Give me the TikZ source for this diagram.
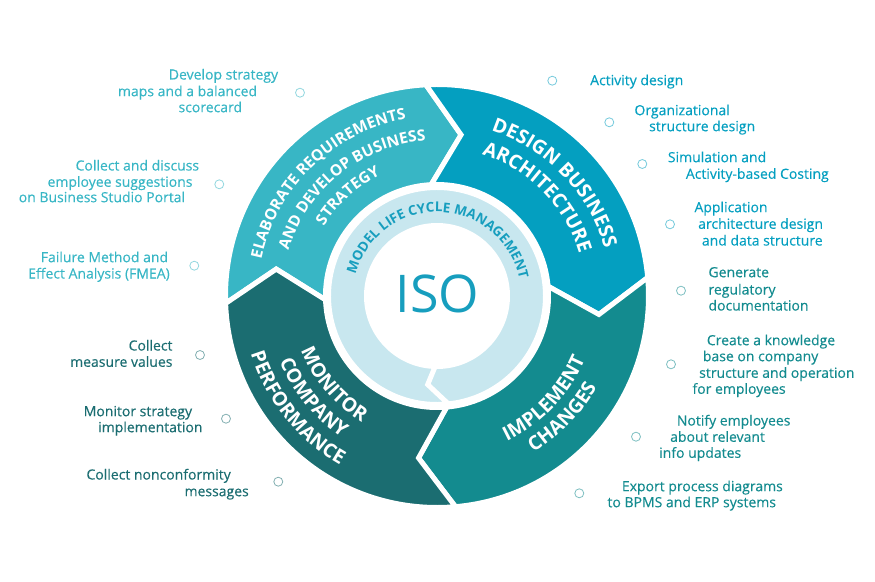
\documentclass[tikz,border=0pt]{standalone}
\usepackage{fontspec}
\setmainfont{Open Sans}
\newfontfamily\itemfont[FakeBold=0.35]{Open Sans}
\usetikzlibrary{decorations.text}

\definecolor{elab}{HTML}{38B6C5}
\definecolor{design}{HTML}{049FC0}
\definecolor{impl}{HTML}{138B8F}
\definecolor{monitor}{HTML}{1B6D71}
\definecolor{ring}{HTML}{C8E7EF}
\definecolor{ringtext}{HTML}{179EBE}

\newcommand\elabfont{\bfseries\fontsize{15.5}{15.5}\selectfont}
\newcommand\segfont{\bfseries\fontsize{19.5}{19.5}\selectfont}
\newcommand\ringfont{\bfseries\fontsize{13.5}{13.5}\selectfont}

\tikzset{
  segment/.style={draw=white, line width=5pt},
  dot/.style={circle, draw, fill=white, line width=0.8pt, minimum size=9pt, inner sep=0pt},
  itemR/.style={anchor=west, inner sep=0pt, font=\itemfont\fontsize{14}{16}\selectfont, text height=10pt, text depth=1pt},
  itemL/.style={itemR, anchor=east},
}

\begin{document}
\begin{tikzpicture}[x=1pt, y=1pt]
  \useasboundingbox (-437,-285) rectangle (438,296);

  % --- four arrow segments of the cycle ---
  \foreach \a/\b/\col in {182/93/elab, 93/5/design, 5/-85/impl, 275/182/monitor}
    \filldraw[segment, fill=\col] (\a:211.5) arc[start angle=\a, end angle=\b, radius=211.5]
      -- ({\b-11.5}:163) -- (\b:111.5) arc[start angle=\b, end angle=\a, radius=111.5]
      -- ({\a-11.5}:163) -- cycle;

  % --- inner ring arrow ---
  \filldraw[segment, fill=ring] (276:108.5) arc[start angle=276, end angle=-84, radius=108.5]
    -- (-96:89) -- (-91.5:70.5) arc[start angle=-91.5, end angle=268.5, radius=70.5]
    -- (264:89) -- cycle;
  \path[decorate, decoration={text along path, text align=center, text color=ringtext,
      text={|\ringfont|MODEL LIFE CYCLE MANAGEMENT}}]
    (178.4:84) arc[start angle=178.4, end angle=-1.6, radius=84];
  \node[text=ringtext, font=\fontsize{52}{52}\selectfont] (iso) at (0.3,2) {ISO};

  % --- segment titles ---
  \path[decorate, decoration={text along path, text align=center, text color=white,
      text={|\elabfont|ELABORATE REQUIREMENTS}}]
    (184:179.5) arc[start angle=184, end angle=84, radius=179.5];
  \path[decorate, decoration={text along path, text align=center, text color=white,
      text={|\elabfont|AND DEVELOP BUSINESS}}]
    (178.5:155.5) arc[start angle=178.5, end angle=78.5, radius=155.5];
  \path[decorate, decoration={text along path, text align=center, text color=white,
      text={|\elabfont|STRATEGY}}]
    (171.7:133) arc[start angle=171.7, end angle=91.7, radius=133];

  \path[decorate, decoration={text along path, text align=center, text color=white,
      text={|\segfont|DESIGN BUSINESS}}]
    (93.75:174) arc[start angle=93.75, end angle=-6.25, radius=174];
  \path[decorate, decoration={text along path, text align=center, text color=white,
      text={|\segfont|ARCHITECTURE}}]
    (94.5:148.5) arc[start angle=94.5, end angle=-5.5, radius=148.5];

  \path[decorate, decoration={text along path, text align=center, text color=white,
      text={|\segfont|IMPLEMENT}}]
    (-93.75:161) arc[start angle=-93.75, end angle=6.25, radius=161];
  \path[decorate, decoration={text along path, text align=center, text color=white,
      text={|\segfont|CHANGES}}]
    (-94:184) arc[start angle=-94, end angle=6, radius=184];

  \path[decorate, decoration={text along path, text align=center, text color=white,
      text={|\segfont|MONITOR}}]
    (170.5:146.6) arc[start angle=170.5, end angle=270.5, radius=146.6];
  \path[decorate, decoration={text along path, text align=center, text color=white,
      text={|\segfont|COMPANY}}]
    (169.25:170.4) arc[start angle=169.25, end angle=269.25, radius=170.4];
  \path[decorate, decoration={text along path, text align=center, text color=white,
      text={|\segfont|PERFORMANCE}}]
    (168.75:195) arc[start angle=168.75, end angle=268.75, radius=195];

  % --- markers ---
  \foreach \p [count=\i] in {(-137,203.3), (-217.7,111.7), (-242.7,30.3)}
    \node[dot, draw=elab!55] (de\i) at \p {};
  \foreach \p [count=\i] in {(115.3,215.3), (172.3,173.7), (205.3,132), (233,71.7)}
    \node[dot, draw=design!55] (dd\i) at \p {};
  \foreach \p [count=\i] in {(244,5.3), (234,-68.3), (199,-140.7), (142.3,-197.3)}
    \node[dot, draw=impl!55] (di\i) at \p {};
  \foreach \p [count=\i] in {(-237,-59), (-211,-122.7), (-158.7,-185.7)}
    \node[dot, draw=monitor!55] (dm\i) at \p {};

  % --- activities ---
  \foreach \x/\y/\t [count=\i] in {-158.7/221/Develop strategy, -179.7/204.3/maps and a balanced,
      -194.7/188.3/scorecard, -237.7/130/Collect and discuss, -244.3/113.7/employee suggestions,
      -251.7/98.3/on Business Studio Portal, -268.7/38.3/Failure Method and,
      -267/22/Effect Analysis (FMEA)}
    \node[itemL, text=elab] (le\i) at (\x,\y) {\t};
  \foreach \x/\y/\t [count=\i] in {153/215.3/Activity design, 197.3/185.3/Organizational,
      212/169.3/structure design, 230.7/138.3/Simulation and, 248.7/121.7/Activity-based Costing,
      257.3/88.3/Application, 261/71.7/architecture design, 264.7/55/and data structure}
    \node[itemR, text=design] (ld\i) at (\x,\y) {\t};
  \foreach \x/\y/\t [count=\i] in {271.3/23.3/Generate, 271.3/6/regulatory, 271.3/-10/documentation,
      269.7/-44.7/Create a knowledge, 265.7/-60.7/base on company, 262/-77.3/structure and operation,
      255.3/-93.3/for employees, 239.7/-125/Notify employees, 233/-141.3/about relevant,
      222/-157.3/info updates, 184.7/-190.7/Export process diagrams,
      170.3/-206.7/to BPMS and ERP systems}
    \node[itemR, text=impl] (li\i) at (\x,\y) {\t};
  \foreach \x/\y/\t [count=\i] in {-264.3/-50/Collect, -264.3/-66.3/measure values,
      -244.7/-115.7/Monitor strategy, -234.3/-131.7/implementation,
      -206/-179/Collect nonconformity, -188/-195.7/messages}
    \node[itemL, text=monitor] (lm\i) at (\x,\y) {\t};
\end{tikzpicture}
\end{document}
